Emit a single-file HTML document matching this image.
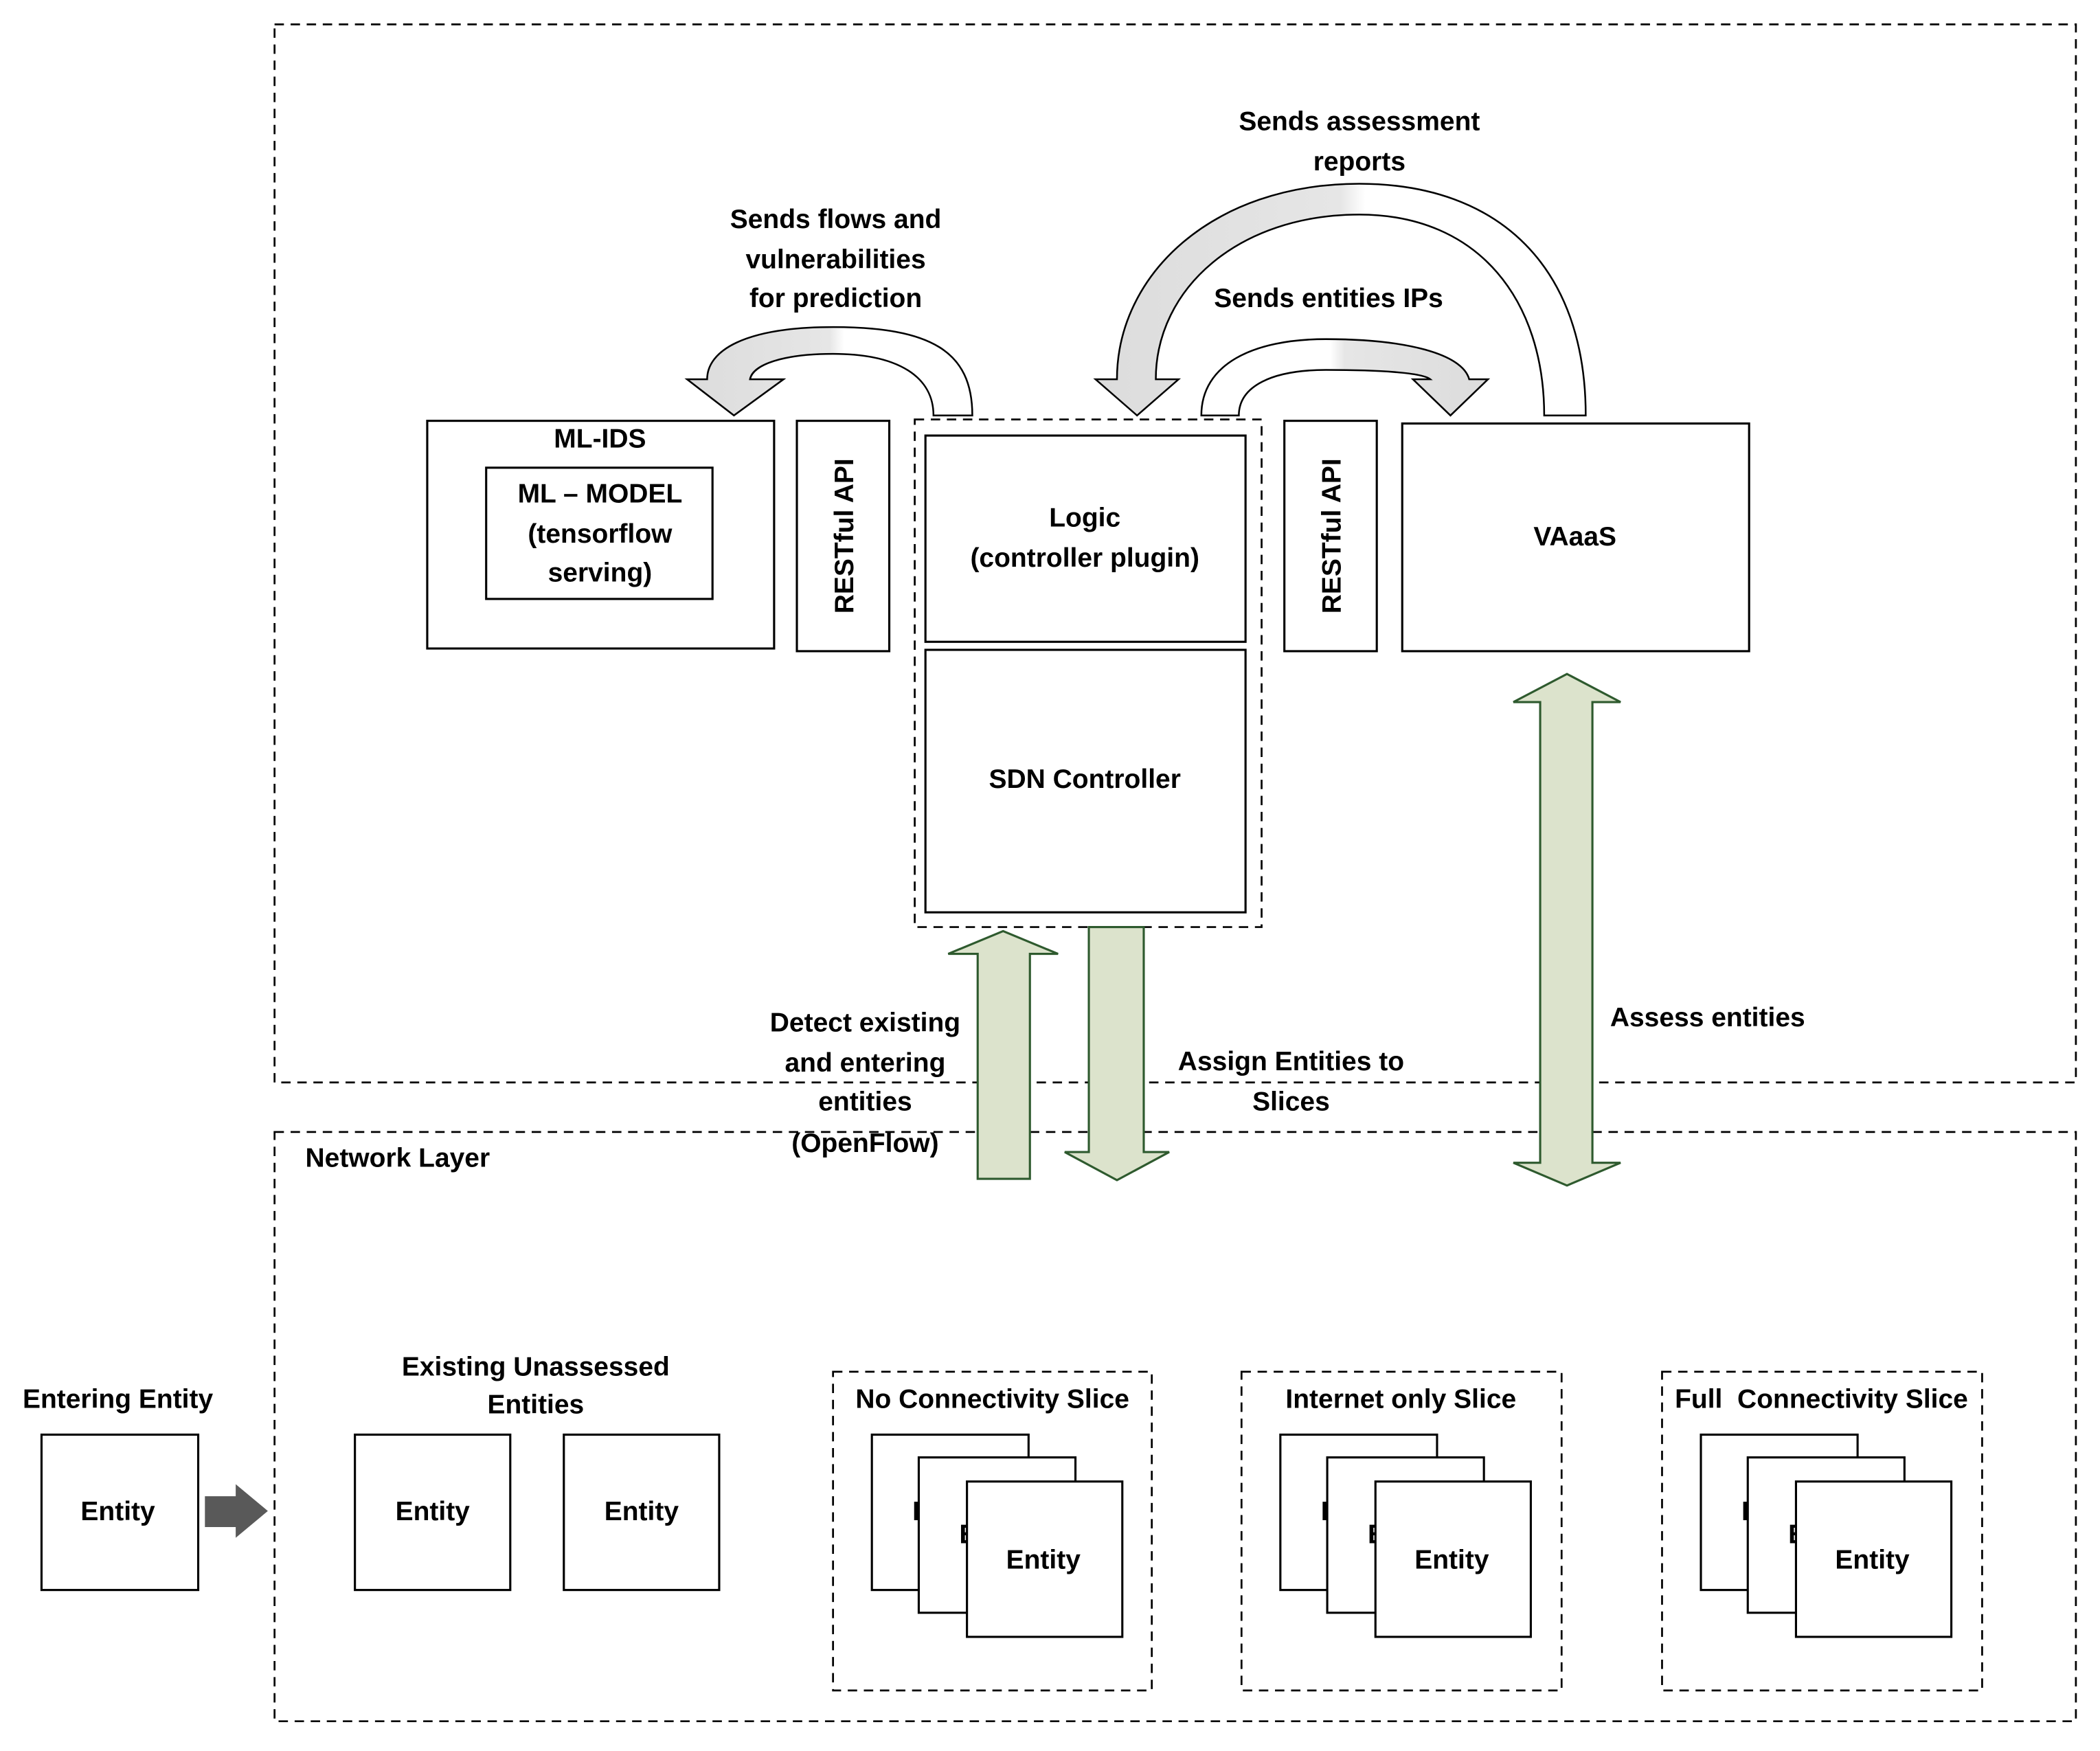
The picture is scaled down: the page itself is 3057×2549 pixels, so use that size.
<!DOCTYPE html>
<html><head><meta charset="utf-8"><style>html,body{margin:0;padding:0;background:#fff}svg{display:block}</style></head><body>
<svg width="3057" height="2549" viewBox="0 0 1568 1307" xmlns="http://www.w3.org/2000/svg" font-family="Liberation Sans, sans-serif" font-weight="bold" font-size="20" text-anchor="middle">
<defs>
<linearGradient id="g1" x1="0" x2="1" y1="0" y2="0"><stop offset="0" stop-color="#dcdcdc"/><stop offset="0.5" stop-color="#e6e6e6"/><stop offset="0.55" stop-color="#fff"/><stop offset="1" stop-color="#fff"/></linearGradient>
<linearGradient id="g3" x1="0" x2="1" y1="0" y2="0"><stop offset="0" stop-color="#fff"/><stop offset="0.45" stop-color="#fff"/><stop offset="0.5" stop-color="#e6e6e6"/><stop offset="1" stop-color="#dcdcdc"/></linearGradient>
</defs>
<g fill="none" stroke="#000" stroke-width="1.4" stroke-dasharray="7,5">
<rect x="205" y="18" width="1345" height="790"/>
<rect x="205" y="845" width="1345" height="440"/>
<rect x="683" y="313" width="259" height="379"/>
<rect x="622" y="1024" width="238" height="238"/>
<rect x="927" y="1024" width="239" height="238"/>
<rect x="1241" y="1024" width="239" height="238"/>
</g>
<g fill="#fff" stroke="#000" stroke-width="1.6">
<rect x="319" y="314" width="259" height="170"/>
<rect x="363" y="349" width="169" height="98"/>
<rect x="595" y="314" width="69" height="172"/>
<rect x="691" y="325" width="239" height="154"/>
<rect x="691" y="485" width="239" height="196"/>
<rect x="959" y="314" width="69" height="172"/>
<rect x="1047" y="316" width="259" height="170"/>
<rect x="31" y="1071" width="117" height="116"/>
<rect x="265" y="1071" width="116" height="116"/>
<rect x="421" y="1071" width="116" height="116"/>
</g>
<text x="448" y="334">ML-IDS</text>
<text x="448" y="375">ML – MODEL</text>
<text x="448" y="405">(tensorflow</text>
<text x="448" y="434">serving)</text>
<text transform="translate(637,400) rotate(-90)">RESTful API</text>
<text transform="translate(1001,400) rotate(-90)">RESTful API</text>
<text x="810" y="393">Logic</text>
<text x="810" y="423">(controller plugin)</text>
<text x="810" y="588">SDN Controller</text>
<text x="1176" y="407">VAaaS</text>
<g stroke="#000" stroke-width="1.3">
<path fill="url(#g1)" d="M697,310 L726,310 C726,262 695,244 622,244 C555,244 528,262 528,283 L513,283 L548,310 L585,283 L560,283 C562,272 585,264 622,264 C672,264 697,282 697,310 Z"/>
<path fill="url(#g1)" d="M1153,310 L1184,310 C1184,200 1120,137 1015,137 C905,137 834,205 834,283 L818,283 L849,310 L880,283 L863,283 C863,215 925,160 1015,160 C1105,160 1153,225 1153,310 Z"/>
<path fill="url(#g3)" d="M897,310 L925,310 C925,288 950,276 990,276 C1030,276 1062,278 1068,283 L1055,283 L1083,310 L1111,283 L1097,283 C1092,264 1050,253 990,253 C935,253 897,272 897,310 Z"/>
</g>
<text x="1015" y="97">Sends assessment</text>
<text x="1015" y="127">reports</text>
<text x="624" y="170">Sends flows and</text>
<text x="624" y="200">vulnerabilities</text>
<text x="624" y="229">for prediction</text>
<text x="992" y="229">Sends entities IPs</text>
<g fill="#dce3cc" stroke="#2e5a2e" stroke-width="1.6">
<path d="M730,880 L730,712 L708,712 L749,695 L790,712 L769,712 L769,880 Z"/>
<path d="M813,692 L854,692 L854,860 L873,860 L834,881 L795,860 L813,860 Z"/>
<path d="M1150,524 L1130,524 L1170,503 L1210,524 L1189,524 L1189,868 L1210,868 L1170,885 L1130,868 L1150,868 Z"/>
</g>
<text x="646" y="770">Detect existing</text>
<text x="646" y="800">and entering</text>
<text x="646" y="829">entities</text>
<text x="646" y="860">(OpenFlow)</text>
<text x="964" y="799">Assign Entities to</text>
<text x="964" y="829">Slices</text>
<text x="1275" y="766">Assess entities</text>
<text x="228" y="871" text-anchor="start">Network Layer</text>
<text x="88" y="1051">Entering Entity</text>
<text x="88" y="1135">Entity</text>
<path d="M153,1117 L176,1117 L176,1108 L200,1128 L176,1148 L176,1140 L153,1140 Z" fill="#595959"/>
<text x="400" y="1027">Existing Unassessed</text>
<text x="400" y="1055">Entities</text>
<text x="323" y="1135">Entity</text>
<text x="479" y="1135">Entity</text>
<g>
<text x="741" y="1051">No Connectivity Slice</text>
<rect x="651" y="1071" width="117" height="116" fill="#fff" stroke="#000" stroke-width="1.6"/>
<text x="709" y="1135">Entity</text>
<rect x="686" y="1088" width="117" height="116" fill="#fff" stroke="#000" stroke-width="1.6"/>
<text x="744" y="1152">Entity</text>
<rect x="722" y="1106" width="116" height="116" fill="#fff" stroke="#000" stroke-width="1.6"/>
<text x="779" y="1171">Entity</text>
</g>
<g transform="translate(305,0)">
<text x="741" y="1051">Internet only Slice</text>
<rect x="651" y="1071" width="117" height="116" fill="#fff" stroke="#000" stroke-width="1.6"/>
<text x="709" y="1135">Entity</text>
<rect x="686" y="1088" width="117" height="116" fill="#fff" stroke="#000" stroke-width="1.6"/>
<text x="744" y="1152">Entity</text>
<rect x="722" y="1106" width="116" height="116" fill="#fff" stroke="#000" stroke-width="1.6"/>
<text x="779" y="1171">Entity</text>
</g>
<g transform="translate(619,0)">
<text x="741" y="1051" xml:space="preserve">Full  Connectivity Slice</text>
<rect x="651" y="1071" width="117" height="116" fill="#fff" stroke="#000" stroke-width="1.6"/>
<text x="709" y="1135">Entity</text>
<rect x="686" y="1088" width="117" height="116" fill="#fff" stroke="#000" stroke-width="1.6"/>
<text x="744" y="1152">Entity</text>
<rect x="722" y="1106" width="116" height="116" fill="#fff" stroke="#000" stroke-width="1.6"/>
<text x="779" y="1171">Entity</text>
</g>
</svg>
</body></html>
